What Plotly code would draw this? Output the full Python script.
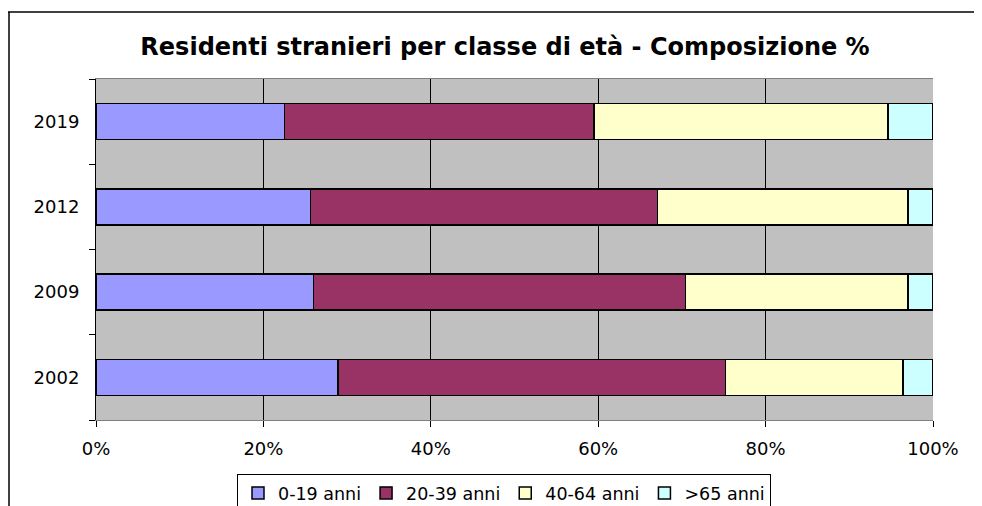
import plotly.graph_objects as go

years = ["2002", "2009", "2012", "2019"]
age_groups = ["0-19 anni", "20-39 anni", "40-64 anni", ">65 anni"]
share_0_19 = [28.9, 26.0, 25.6, 22.5]
share_20_39 = [46.3, 44.4, 41.5, 37.0]
share_40_64 = [21.2, 26.6, 29.9, 35.1]
share_65 = [3.6, 3.0, 3.0, 5.4]
x_ticks = [0, 20, 40, 60, 80, 100]

colors = ["#9999FF", "#993366", "#FFFFCC", "#CCFFFF"]
series = [share_0_19, share_20_39, share_40_64, share_65]

# the page body adds an 8px offset, so figure pixels = screen pixels - 8;
# the figure is a bit taller than the window so the legend box runs off the bottom
W, H = 982, 530
L, R, T, B = 88, 57, 71, 118
pw, ph = W - L - R, H - T - B


def px_x(p):
    return (p - L) / pw


def px_y(p):
    return (H - B - p) / ph


fig = go.Figure()
for name, vals, col in zip(age_groups, series, colors):
    fig.add_trace(
        go.Bar(
            y=years,
            x=vals,
            name=name,
            orientation="h",
            marker=dict(color=col, line=dict(color="black", width=1.5)),
        )
    )

fig.update_layout(
    width=W,
    height=H,
    margin=dict(l=L, r=R, t=T, b=B),
    barmode="stack",
    bargap=0.58,
    paper_bgcolor="white",
    plot_bgcolor="#C0C0C0",
    font=dict(family="DejaVu Sans", size=18, color="black"),
    title=dict(
        text="<b>Residenti stranieri per classe di età - Composizione %</b>",
        x=px_x(497),
        xanchor="center",
        xref="paper",
        y=1 - 39 / H,
        yanchor="middle",
        font=dict(family="DejaVu Sans", size=24, color="black"),
    ),
    showlegend=True,
    legend=dict(
        orientation="h",
        x=px_x(496),
        xanchor="center",
        y=px_y(466),
        yanchor="top",
        bordercolor="black",
        borderwidth=1,
        font=dict(family="DejaVu Sans", size=17.5),
        traceorder="normal",
        itemwidth=30,
    ),
    shapes=[
        dict(type="line", xref="paper", yref="paper",
             x0=px_x(0), x1=px_x(982), y0=px_y(4), y1=px_y(4),
             line=dict(color="black", width=1.5)),
        dict(type="line", xref="paper", yref="paper",
             x0=px_x(1), x1=px_x(1), y0=px_y(4), y1=px_y(530),
             line=dict(color="black", width=1.5)),
    ],
)

fig.update_xaxes(
    range=[0, 100],
    tickvals=x_ticks,
    ticktext=[f"{v}%" for v in x_ticks],
    showgrid=True,
    gridcolor="black",
    gridwidth=1,
    zeroline=False,
    ticks="outside",
    ticklen=6,
    tickcolor="black",
    showline=True,
    linecolor="#808080",
    mirror=True,
    ticklabelstandoff=6,
)
fig.update_yaxes(
    categoryorder="array",
    categoryarray=years,
    ticks="outside",
    tickson="boundaries",
    ticklen=6,
    tickcolor="black",
    showline=True,
    linecolor="black",
    showgrid=False,
    ticklabelstandoff=12,
)

fig.write_html("out.html")
